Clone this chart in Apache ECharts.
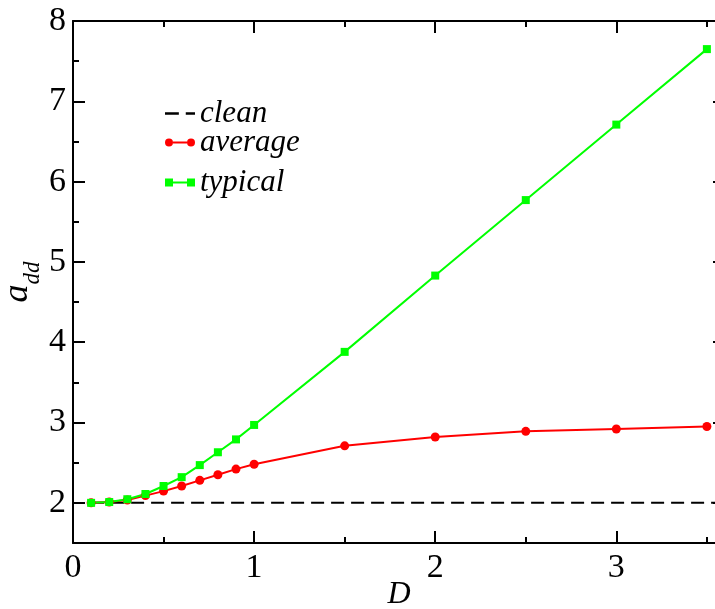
<!DOCTYPE html>
<html>
<head>
<meta charset="utf-8">
<script src="https://cdn.jsdelivr.net/npm/echarts@6/dist/echarts.min.js"></script>
<style>
  html, body { margin: 0; padding: 0; overflow: hidden; background: #fff; }
  #chart { width: 730px; height: 609px; }
</style>
</head>
<body>
<div id="chart"></div>
<script>
// values
const dValues = [0.1, 0.2, 0.3, 0.4, 0.5, 0.6, 0.7, 0.8, 0.9, 1.0, 1.5, 2.0, 2.5, 3.0, 3.5]
const averageValues = [2.0, 2.01, 2.035, 2.09, 2.146, 2.21, 2.28, 2.35, 2.42, 2.48, 2.71, 2.82, 2.89, 2.92, 2.95]
const typicalValues = [2.0, 2.01, 2.045, 2.11, 2.21, 2.32, 2.47, 2.63, 2.79, 2.97, 3.88, 4.83, 5.77, 6.71, 7.65]
const cleanD = [0.1, 3.6]
const cleanValues = [2, 2]

const xTicks = [0, 1, 2, 3]
const xMinorTicks = [0.5, 1.5, 2.5, 3.5]
const yTicks = [2, 3, 4, 5, 6, 7, 8]
const yMinorTicks = [2.5, 3.5, 4.5, 5.5, 6.5, 7.5]

const serif = "'Liberation Serif', 'Times New Roman', serif"
const black = '#000'

function pairs(xs, ys) {
  return xs.map((x, i) => [x, ys[i]])
}

// one axis = one set of ticks; major and minor are stacked on the same spot
function makeAxis(kind, position, ticks, long, withLabels, showLine) {
  const axis = {
    type: 'value',
    position: position,
    min: kind === 'x' ? 0 : 1.5,
    max: kind === 'x' ? 3.6 : 8,
    splitLine: { show: false },
    axisLine: { show: showLine, onZero: false, lineStyle: { color: black, width: 2 } },
    axisTick: {
      show: true,
      inside: true,
      length: long ? 12 : 6,
      customValues: ticks,
      lineStyle: { color: black, width: 2 }
    },
    axisLabel: { show: false }
  }
  if (withLabels) {
    axis.axisLabel = {
      show: true,
      customValues: ticks,
      color: black,
      fontFamily: serif,
      fontSize: 34,
      margin: kind === 'x' ? 8 : 7
    }
  }
  return axis
}

const xAxes = [
  makeAxis('x', 'bottom', xTicks, true, true, true),
  makeAxis('x', 'bottom', xMinorTicks, false, false, false),
  makeAxis('x', 'top', xTicks, true, false, true),
  makeAxis('x', 'top', xMinorTicks, false, false, false)
]
xAxes[0].name = 'D'
xAxes[0].nameLocation = 'middle'
xAxes[0].nameGap = 36
xAxes[0].nameMoveOverlap = false
xAxes[0].nameTextStyle = { color: black, fontFamily: serif, fontStyle: 'italic', fontSize: 32 }

const yAxes = [
  makeAxis('y', 'left', yTicks, true, true, true),
  makeAxis('y', 'left', yMinorTicks, false, false, false),
  makeAxis('y', 'right', yTicks, true, false, true),
  makeAxis('y', 'right', yMinorTicks, false, false, false)
]
yAxes[0].name = '{a|a}{s|dd}'
yAxes[0].nameLocation = 'middle'
yAxes[0].nameRotate = 90
yAxes[0].nameGap = 29
yAxes[0].nameMoveOverlap = false
yAxes[0].nameTextStyle = {
  color: black,
  rich: {
    a: { fontFamily: serif, fontStyle: 'italic', fontSize: 36, color: black, padding: [0, 0, 8, 0], verticalAlign: 'bottom' },
    s: { fontFamily: serif, fontStyle: 'italic', fontSize: 23, color: black, verticalAlign: 'bottom' }
  }
}

const legendText = { color: black, fontFamily: serif, fontStyle: 'italic', fontSize: 31 }
function makeLegend(name, icon, top) {
  return {
    data: [{ name: name, icon: icon }],
    left: 160,
    top: top,
    itemWidth: 30,
    itemHeight: 10,
    itemGap: 0,
    textStyle: legendText,
    selectedMode: false
  }
}

const chart = echarts.init(document.getElementById('chart'))
chart.setOption({
  animation: false,
  backgroundColor: '#fff',
  textStyle: { fontFamily: serif },
  grid: { left: 73, right: 5, top: 21, bottom: 66, containLabel: false, outerBoundsMode: 'none' },
  xAxis: xAxes,
  yAxis: yAxes,
  legend: [
    makeLegend('clean', 'path://M0,4H12V6H0Z M18,4H26V6H18Z', 93),
    makeLegend('average', 'path://M0,5a4,4 0 1,0 8,0a4,4 0 1,0 -8,0Z M22,5a4,4 0 1,0 8,0a4,4 0 1,0 -8,0Z M8,4H22V6H8Z', 122),
    makeLegend('typical', 'path://M0,1H8V9H0Z M22,1H30V9H22Z M8,4H22V6H8Z', 162)
  ],
  series: [
    {
      name: 'clean',
      type: 'line',
      data: pairs(cleanD, cleanValues),
      showSymbol: false,
      symbol: 'none',
      color: black,
      lineStyle: { color: black, width: 2, type: [13, 7] }
    },
    {
      name: 'average',
      type: 'line',
      data: pairs(dValues, averageValues),
      symbol: 'circle',
      symbolSize: 9,
      color: '#ff0000',
      lineStyle: { color: '#ff0000', width: 2 },
      itemStyle: { color: '#ff0000' }
    },
    {
      name: 'typical',
      type: 'line',
      data: pairs(dValues, typicalValues),
      symbol: 'rect',
      symbolSize: 8,
      color: '#00ff00',
      lineStyle: { color: '#00ff00', width: 2 },
      itemStyle: { color: '#00ff00' }
    }
  ]
})
</script>
</body>
</html>
